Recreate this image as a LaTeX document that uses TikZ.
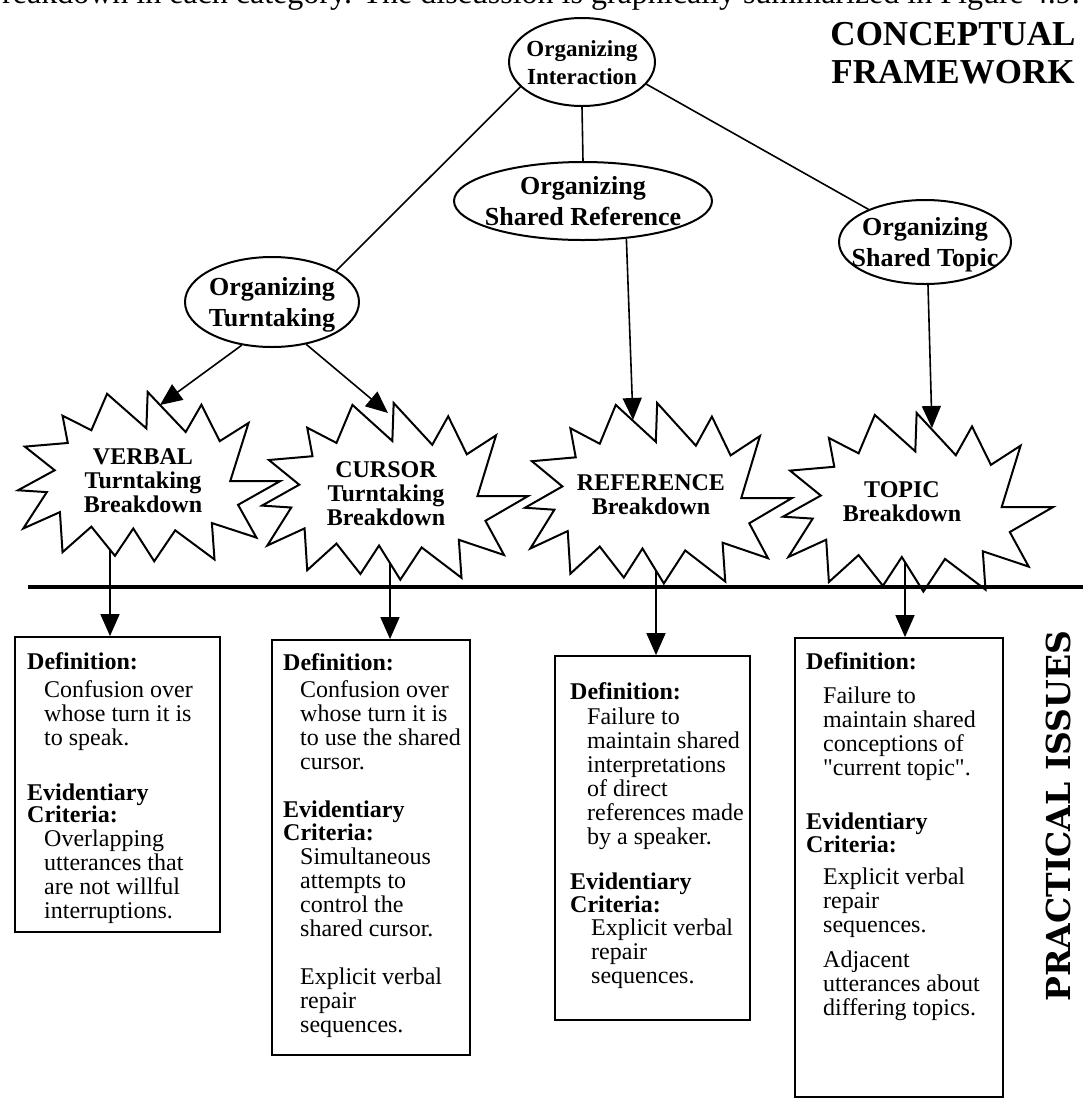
\documentclass[tikz,border=0pt]{standalone}
\usepackage{fontspec}
\setmainfont{Liberation Serif}
\newfontfamily\slabfont{DejaVu Serif}
\newfontfamily\plainserif{Liberation Serif}[Ligatures=TeXOff]
\usetikzlibrary{arrows.meta,shapes.geometric,intersections}

% stacked lines whose first baseline is the baseline of the whole box
\newcommand\rowsc[1]{\begin{tabular}[t]{@{}c@{}}#1\end{tabular}}
\newcommand\rowsl[1]{\begin{tabular}[t]{@{}l@{}}#1\end{tabular}}
\newcommand\ind{\hspace*{17pt}}
\newcommand\dq{{\plainserif\symbol{34}}}

% explosion outline in a unit box (x to the right, y downwards)
\def\burstoutline{(0.34,0.01) -- (0.49,0.20) -- (0.495,0) -- (0.64,0.22) -- (0.70,0.07)
  -- (0.77,0.27) -- (0.88,0.17) -- (0.81,0.49) -- (1,0.49) -- (0.84,0.62) -- (0.91,0.80)
  -- (0.74,0.72) -- (0.75,0.92) -- (0.60,0.76) -- (0.52,0.93) -- (0.44,0.75) -- (0.37,0.90)
  -- (0.28,0.74) -- (0.17,0.88) -- (0.16,0.66) -- (0.02,0.75) -- (0.11,0.55) -- (0,0.54)
  -- (0.14,0.43) -- (0.026,0.30) -- (0.19,0.28) -- (0.17,0.13) -- (0.28,0.21) -- cycle}
% name, left, top, width, height
\newcommand\burst[5]{%
  \begin{scope}[shift={(#2,#3)}, x=#4pt, y=-#5pt]
    \draw[burstline, name path global=#1] \burstoutline;
  \end{scope}}

\begin{document}
\begin{tikzpicture}[x=1pt,y=-1pt,
  ell/.style={draw, ellipse, line width=2pt, inner sep=0pt},
  elltext/.style={font=\bfseries\fontsize{26}{31}\selectfont, inner sep=0pt, anchor=base},
  link/.style={line width=1.6pt},
  arr/.style={line width=1.6pt, -{Triangle[length=22pt,width=19pt]}},
  burstline/.style={line width=2pt, line join=miter},
  bursttext/.style={font=\bfseries\fontsize{24}{24}\selectfont, inner sep=0pt, anchor=base},
  card/.style={draw, line width=1.8pt, inner sep=0pt},
  cardtext/.style={font=\fontsize{24}{24}\selectfont, inner sep=0pt, anchor=base west},
  rulerline/.style={line width=4pt}]
\useasboundingbox (0,0) rectangle (1083,1104);
\clip (0,0) rectangle (1083,1104);

% last line of the running text above the figure
\node[anchor=base east, inner sep=0pt, font=\fontsize{32}{32}\selectfont] (runtext) at (1080,3.5)
  {breakdown in each category.  The discussion is graphically summarized in Figure 4.9.};

% heading
\node[anchor=base, inner sep=0pt, font=\bfseries\fontsize{35}{38}\selectfont] (title) at (953,45)
  {\rowsc{CONCEPTUAL\\FRAMEWORK}};

% concept ellipses
\node[ell, minimum width=146pt, minimum height=88pt] (top) at (582,62) {};
\node[elltext, font=\bfseries\fontsize{23}{28}\selectfont] (topT) at (582,56) {\rowsc{Organizing\\Interaction}};

\node[ell, minimum width=174pt, minimum height=90pt] (turn) at (272,302) {};
\node[elltext] (turnT) at (272,295) {\rowsc{Organizing\\Turntaking}};

\node[ell, minimum width=258pt, minimum height=78pt] (ref) at (583,201) {};
\node[elltext] (refT) at (583,194) {\rowsc{Organizing\\Shared Reference}};

\node[ell, minimum width=172pt, minimum height=84pt] (topic) at (925,242) {};
\node[elltext] (topicT) at (925,235) {\rowsc{Organizing\\Shared Topic}};

\draw[link] (top.202) -- (turn.26);
\draw[link] (top.south) -- (ref.north);
\draw[link] (top.341) -- (topic.150);

% breakdown outlines
\burst{verbal}{18}{392}{262}{182}
\burst{cursor}{262}{403}{266}{190}
\burst{refb}{525}{403}{267}{194}
\burst{topicb}{783}{413}{270}{192}

\node[bursttext] (verbalT) at (143,464) {\rowsc{VERBAL\\Turntaking\\Breakdown}};
\node[bursttext] (cursorT) at (386,477) {\rowsc{CURSOR\\Turntaking\\Breakdown}};
\node[bursttext] (refbT) at (651,490) {\rowsc{REFERENCE\\Breakdown}};
\node[bursttext] (topicbT) at (902,497) {\rowsc{TOPIC\\Breakdown}};

% arrow tips on the outlines
\coordinate (verbalTip) at (160,405);
\coordinate (cursorTip) at (388,413);
\coordinate (refbTip) at (633,420);
\coordinate (topicbTip) at (932,428);

\draw[arr] (turn.235) -- (verbalTip);
\draw[arr] (turn.309) -- (cursorTip);
\draw[arr] (ref.319) -- (refbTip);
\draw[arr] (topic.274) -- (topicbTip);

% where the drop lines leave the outlines
\path[name path=verbalDrop] (110,480) -- (110,640);
\path[name path=cursorDrop] (390,480) -- (390,640);
\path[name path=refbDrop] (656,480) -- (656,640);
\path[name path=topicbDrop] (905,480) -- (905,640);
\path[name intersections={of=verbal and verbalDrop, sort by=verbalDrop, by={verbalFoot}}];
\path[name intersections={of=cursor and cursorDrop, sort by=cursorDrop, by={cursorFoot}}];
\path[name intersections={of=refb and refbDrop, sort by=refbDrop, by={refbFoot}}];
\path[name intersections={of=topicb and topicbDrop, sort by=topicbDrop, by={topicbFoot}}];

% boundary between the two levels
\draw[rulerline] (28,587) -- (1083,587);

% issue cards
\node[card, minimum width=205pt, minimum height=295pt] (card1) at (117.5,784.5) {};
\node[card, minimum width=198pt, minimum height=415pt] (card2) at (371,847.5) {};
\node[card, minimum width=195pt, minimum height=364pt] (card3) at (652.5,838) {};
\node[card, minimum width=208pt, minimum height=459pt] (card4) at (899,867.5) {};

\draw[arr] (verbalFoot) -- (card1.north -| verbalFoot);
\draw[arr] (cursorFoot) -- (card2.north -| cursorFoot);
\draw[arr] (refbFoot) -- (card3.north -| refbFoot);
\draw[arr] (topicbFoot) -- (card4.north -| topicbFoot);

\node[cardtext] (card1T) at (27,669) {\rowsl{%
  \textbf{Definition:}\\[4pt]
  \ind Confusion over\\
  \ind whose turn it is\\
  \ind to speak.\\[31pt]
  \textbf{Evidentiary}\\[-2pt]
  \textbf{Criteria:}\\
  \ind Overlapping\\
  \ind utterances that\\
  \ind are not willful\\
  \ind interruptions.}};

\node[cardtext] (card2T) at (283,670) {\rowsl{%
  \textbf{Definition:}\\[3pt]
  \ind Confusion over\\
  \ind whose turn it is\\
  \ind to use the shared\\
  \ind cursor.\\[24pt]
  \textbf{Evidentiary}\\[-1pt]
  \textbf{Criteria:}\\
  \ind Simultaneous\\
  \ind attempts to\\
  \ind control the\\
  \ind shared cursor.\\[24pt]
  \ind Explicit verbal\\
  \ind repair\\
  \ind sequences.}};

\node[cardtext] (card3T) at (570,699) {\rowsl{%
  \textbf{Definition:}\\[1pt]
  \ind Failure to\\
  \ind maintain shared\\
  \ind interpretations\\
  \ind of direct\\
  \ind references made\\
  \ind by a speaker.\\[21pt]
  \textbf{Evidentiary}\\[-1pt]
  \textbf{Criteria:}\\[-1pt]
  \hspace*{21pt}Explicit verbal\\
  \hspace*{21pt}repair\\
  \hspace*{21pt}sequences.}};

\node[cardtext] (card4T) at (806,669) {\rowsl{%
  \textbf{Definition:}\\[10pt]
  \ind Failure to\\
  \ind maintain shared\\
  \ind conceptions of\\
  \ind \dq current topic\dq.\\[30pt]
  \textbf{Evidentiary}\\[-1pt]
  \textbf{Criteria:}\\[8pt]
  \ind Explicit verbal\\
  \ind repair\\
  \ind sequences.\\[11pt]
  \ind Adjacent\\
  \ind utterances about\\
  \ind differing topics.}};

% side label of the lower level
\node[rotate=90, inner sep=0pt, font=\slabfont\bfseries\fontsize{33}{33}\selectfont] (practical) at (1058,816) {PRACTICAL ISSUES};
\end{tikzpicture}
\end{document}
